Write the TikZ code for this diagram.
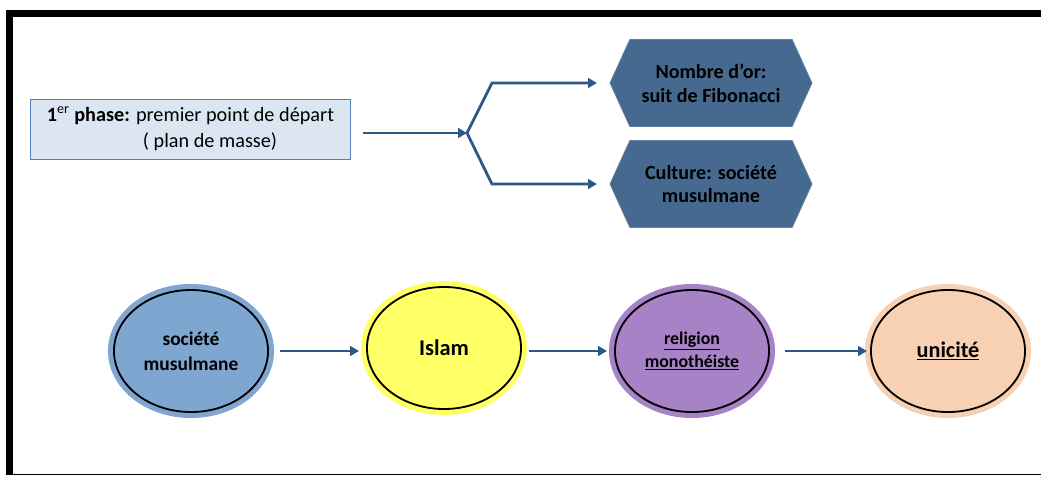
\documentclass[tikz,border=0pt]{standalone}
\usepackage{fontspec}
\setmainfont{Carlito}
\usepackage{tikz}
\usetikzlibrary{positioning, arrows.meta, shapes.geometric, shapes.symbols}
\definecolor{boxFillCol}{RGB}{220, 230, 242}
\definecolor{boxEdgeCol}{RGB}{79, 129, 189}
\definecolor{arrowCol}{RGB}{44, 87, 134}
\definecolor{hexCol}{RGB}{70, 106, 143}
\definecolor{socCol}{RGB}{126, 166, 208}
\definecolor{islamCol}{RGB}{255, 255, 102}
\definecolor{relCol}{RGB}{168, 130, 199}
\definecolor{uniCol}{RGB}{248, 208, 179}
\tikzset{myFrameLine/.style={line width=0.175cm, color=black}}
\tikzset{myArrow/.style={line width=0.07cm, color=arrowCol, -{Triangle[length=0.22cm, width=0.24cm]}}}
\tikzset{phaseBox/.style={draw=boxEdgeCol, fill=boxFillCol, line width=0.7pt, minimum width=7.975cm, minimum height=1.5cm, align=left, inner sep=0pt, outer sep=0pt, font=\fontsize{14.4}{19.1}\selectfont}}
\tikzset{hexBox/.style={shape=signal, signal to=east and west, signal pointer angle=131, fill=hexCol, draw=hexCol!85!white, line width=0.5pt, minimum width=5.05cm, minimum height=2.175cm, align=center, inner sep=0pt, outer sep=0pt, font=\bfseries\fontsize{14.3}{17}\selectfont}}
\tikzset{bubble/.style={shape=ellipse, draw=black, line width=1.3pt, fill=#1, preaction={draw=#1, line width=0.3cm}, minimum width=3.85cm, minimum height=3.05cm, inner sep=0pt, outer sep=0pt, align=center}}

\begin{document}
\begin{tikzpicture}[x=0.025cm, y=-0.025cm]
	\useasboundingbox (0,0) rectangle (1041,476);
	% frame
	\draw[myFrameLine] (1041,13.5) -| (9.5,474.5);
	\draw[black, line width=0.025cm] (9.5,474.5) -- (1041,474.5);

	\node[phaseBox] (phase) at (190.5,129) {\textbf{1}\textsuperscript{er} \textbf{phase:} premier point de départ\\ \hspace*{2.4cm}( plan de masse)};
	\coordinate (fork) at (467,133);

	\node[hexBox] (nombre) at (711,83) {Nombre d’or:\\suit de Fibonacci};
	\node[hexBox] (culture) at (711,184) {Culture: société\\musulmane};

	\draw[myArrow] ([xshift=0.325cm]phase.east |- fork) -- (fork);
	\draw[myArrow] (fork) -- ([xshift=-2.95cm]nombre.west) -- ([xshift=-0.325cm]nombre.west);
	\draw[myArrow] (fork) -- ([xshift=-2.95cm]culture.west) -- ([xshift=-0.325cm]culture.west);

	\node[bubble=socCol, font=\bfseries\fontsize{13.8}{18}\selectfont] (societe) at (191,351) {société\\musulmane};
	\node[bubble=islamCol, font=\bfseries\fontsize{16}{19}\selectfont] (islam) at (444,348) {Islam};
	\node[bubble=relCol, font=\bfseries\fontsize{12.7}{16}\selectfont] (religion) at (692,351) {\underline{religion}\\\underline{monothéiste}};
	\node[bubble=uniCol, font=\bfseries\fontsize{15.8}{19}\selectfont] (unicite) at (948,351) {\underline{unicité}};

	\draw[myArrow, shorten <=0.3cm, shorten >=0.2cm] (societe.east) -- (societe.east -| islam.west);
	\draw[myArrow, shorten <=0.2cm, shorten >=0.2cm] (islam.east |- religion.west) -- (religion.west);
	\draw[myArrow, shorten <=0.4cm, shorten >=0.1cm] (religion.east) -- (unicite.west);
\end{tikzpicture}
\end{document}
